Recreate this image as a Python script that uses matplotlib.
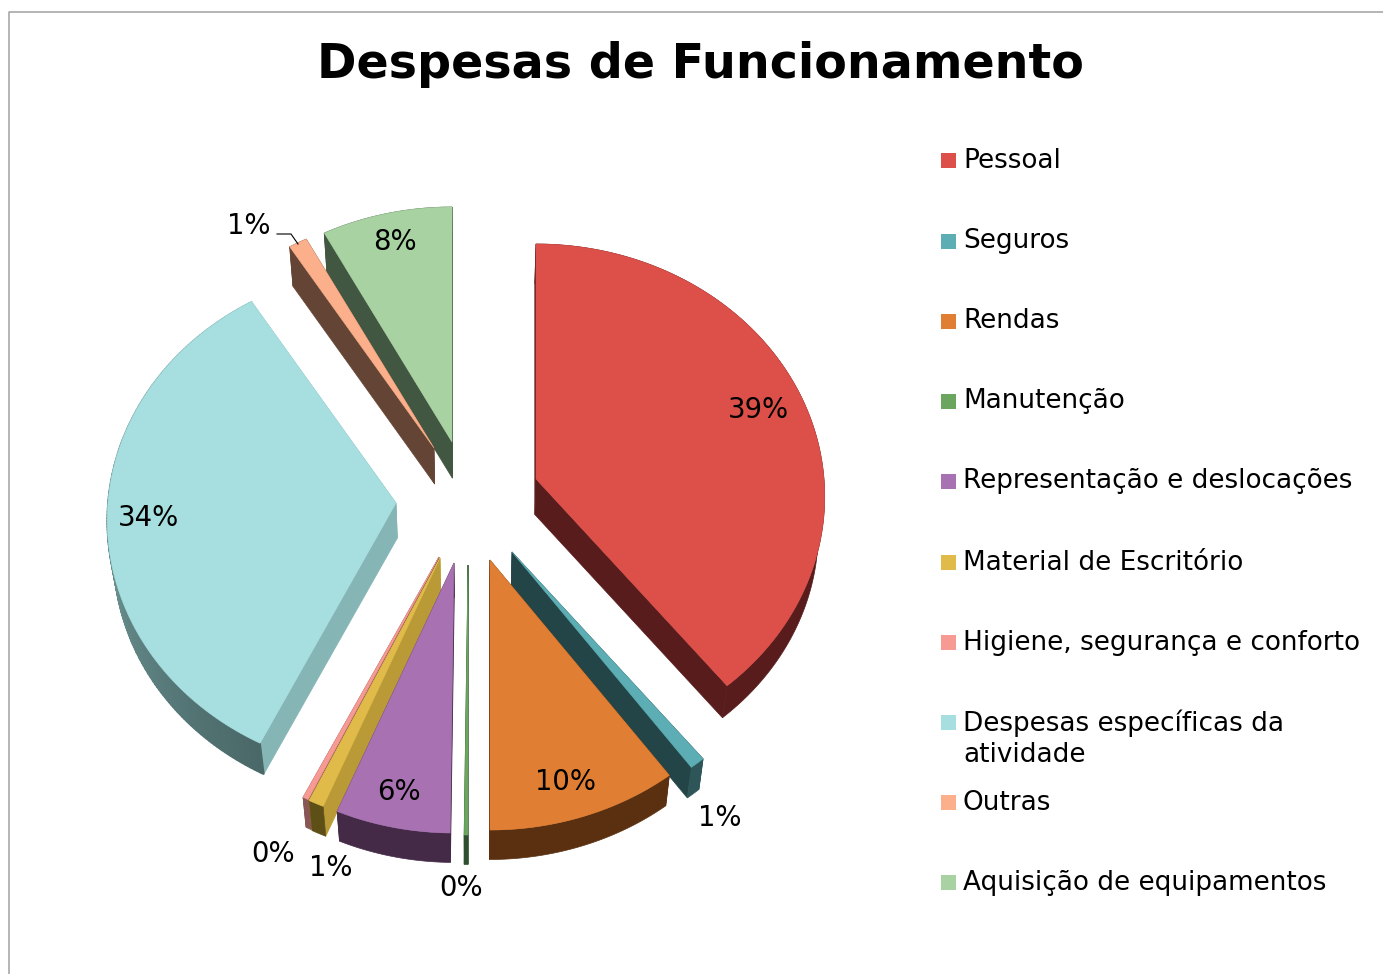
import numpy as np
import matplotlib
matplotlib.use('Agg')
import matplotlib.pyplot as plt
from matplotlib.colors import to_rgb

# Chart data (percent of total)
categories = ['Pessoal', 'Seguros', 'Rendas', 'Manutenção', 'Representação e deslocações',
              'Material de Escritório', 'Higiene, segurança e conforto',
              'Despesas específicas da\natividade', 'Outras', 'Aquisição de equipamentos']
values = [39.2, 0.8, 10.0, 0.2, 6.0, 0.8, 0.3, 33.8, 1.1, 7.8]

# Styles, one per slice
top_colors = ['#DC5049', '#5DAEB4', '#E07F33', '#6BA55F', '#A871B2',
              '#E0BB4A', '#F79A94', '#A7DFE0', '#FBAF8A', '#A8D2A2']
side_colors = ['#581C1C', '#234548', '#5A3010', '#2F5030', '#442A47',
               '#BA9A37', '#8A5555', '#85B5B5', '#644535', '#415741']
rim_start = ['#581C1C', '#2E5659', '#5A3010', '#2F5030', '#442A47',
             '#5E4F17', '#8A5555', '#4A6868', '#644535', '#415741']
rim_end = ['#581C1C', '#2E5659', '#5A3010', '#2F5030', '#442A47',
           '#5E4F17', '#8A5555', '#8FC0C0', '#644535', '#415741']

# Explode offset of each slice, in pixels
explode_x = [63, 39, 17, -5, -19, -33, -34, -77, -39, -21]
explode_y = [-26, 47, 55, 60, 58, 53, 52, -2, -57, -63]

# Back to front
draw_order = [0, 9, 8, 7, 1, 2, 3, 6, 5, 4]

label_x = [758, 720, 566, 461, 399, 331, 273, 148, 249, 395]
label_y = [410, 818, 782, 888, 792, 868, 854, 518, 226, 242]

legend_y = [160, 241, 321, 401, 481, 562, 642, 722, 802, 882]

CX, CY = 473, 505
RX, RY, K = 288, 251.3, 0.0693  # ellipse radii and perspective


def project(theta):
    u, v = np.sin(theta), -np.cos(theta)
    w = 1 - K * v
    return RX * u / w, RY * v / w


def extrude(x, y):
    # bottom edge of the slice wall, pulled a little towards the vanishing point
    return x + (470 - x) * 0.018, y + 36 - (y - 450) * 6 / 350


fig = plt.figure(figsize=(13.83, 9.74), dpi=100)
ax = fig.add_axes([0, 0, 1, 1])
ax.set_xlim(0, 1383)
ax.set_ylim(974, 0)
ax.axis('off')

# Frame, only the top and left sides are left in the crop
ax.plot([9, 9, 1383], [974, 12, 12], color='#A0A0A0', lw=1.1)

cum = np.cumsum([0] + values) / sum(values) * 2 * np.pi

for i in draw_order:
    n = max(3, int(np.degrees(cum[i + 1] - cum[i]) * 1.5))
    t = np.linspace(cum[i], cum[i + 1], n)
    px, py = project(t)
    ax0 = CX + explode_x[i]
    ay0 = CY + explode_y[i]
    px, py = px + ax0, py + ay0
    bx, by = extrude(px, py)
    abx, aby = extrude(ax0, ay0)

    # radial walls
    for k in (0, -1):
        ax.fill([ax0, px[k], bx[k], abx], [ay0, py[k], by[k], aby],
                color=side_colors[i], lw=0.5)
    # outer wall, in segments when it carries a gradient
    if rim_start[i] == rim_end[i]:
        ax.fill(np.r_[px, bx[::-1]], np.r_[py, by[::-1]], color=rim_start[i], lw=0.5)
    else:
        c0, c1 = np.array(to_rgb(rim_end[i])), np.array(to_rgb(rim_start[i]))
        for k in range(n - 1):
            f = k / max(n - 2, 1)
            col = tuple(c1 * (1 - f) + c0 * f)
            ax.fill([px[k], px[k + 1], bx[k + 1], bx[k]], [py[k], py[k + 1], by[k + 1], by[k]],
                    color=col, lw=1.2)
    # top face
    ax.fill(np.r_[ax0, px], np.r_[ay0, py], color=top_colors[i], lw=0.4)

# Percent labels
for i, v in enumerate(values):
    ax.text(label_x[i], label_y[i], f'{v:.0f}%', ha='center', va='center',
            fontsize=19.8, color='black')

# Leader line of the "Outras" label
ax.plot([277, 291, 298], [234, 234, 244], color='black', lw=0.8)

ax.text(700, 65, 'Despesas de Funcionamento', ha='center', va='center',
        fontsize=34.3, fontweight='bold', color='black')

# Legend
for i, name in enumerate(categories):
    ax.add_patch(plt.Rectangle((941, legend_y[i] - 7.5), 15, 15, color=top_colors[i], lw=0))
    ax.text(963, legend_y[i] - 12.5, name, ha='left', va='top', fontsize=18.9,
            color='black', linespacing=1.25)

fig.savefig('out.png', dpi=100)
